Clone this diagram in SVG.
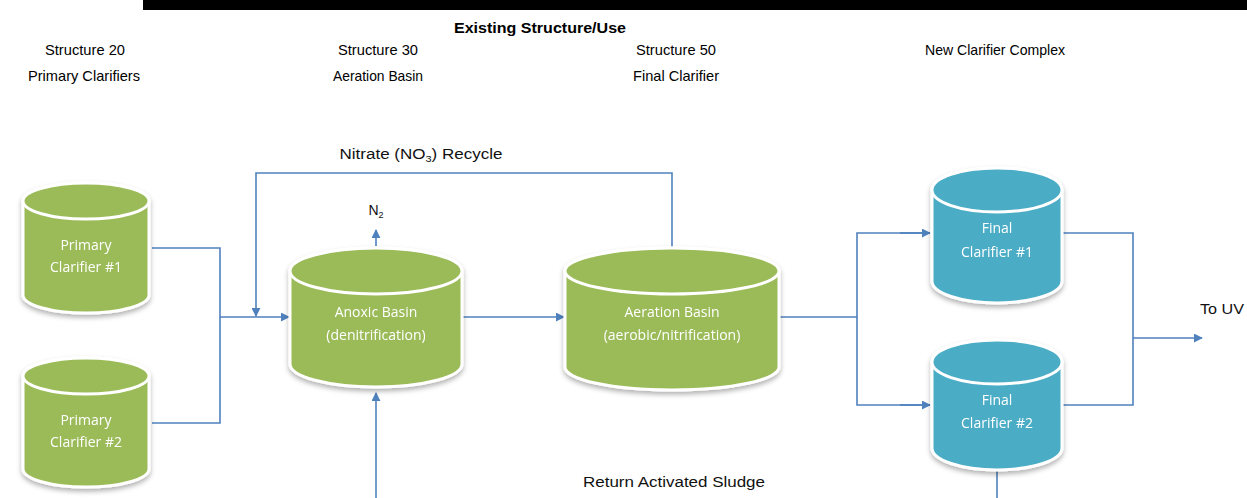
<svg xmlns="http://www.w3.org/2000/svg" width="1247" height="498" viewBox="0 0 1247 498">
<style>
.hdr{font-family:"Liberation Sans Narrow","Liberation Sans",Arial,sans-serif;font-size:15px;fill:#000;text-anchor:middle}
.lbl{font-family:"Liberation Sans",Arial,sans-serif;font-size:14px;fill:#111;text-anchor:middle}
.nt{font-family:"Open Sans","Liberation Sans",sans-serif;font-size:14px;fill:#fff;text-anchor:middle}
.green{fill:#9BBB59;stroke:#fff;stroke-width:3}
.blue{fill:#4BACC6;stroke:#fff;stroke-width:3}
.conn{fill:none;stroke:#4F81BD;stroke-width:1.6}
</style>
<defs>
<marker id="ah" viewBox="0 0 10 10" refX="9" refY="5" markerWidth="9" markerHeight="9" orient="auto" markerUnits="userSpaceOnUse">
<path d="M0,0 L10,5 L0,10 z" fill="#4F81BD"/>
</marker>
<filter id="sh" x="-20%" y="-20%" width="140%" height="150%">
<feDropShadow dx="0" dy="3" stdDeviation="2.5" flood-color="#000" flood-opacity="0.3"/>
</filter>
</defs>
<rect x="143" y="0" width="1104" height="10" fill="#000"/>
<g id="headers">
<text class="hdr" x="540" y="33" font-weight="bold" textLength="172" lengthAdjust="spacingAndGlyphs">Existing Structure/Use</text>
<text class="hdr" x="85" y="55" textLength="80" lengthAdjust="spacingAndGlyphs">Structure 20</text>
<text class="hdr" x="84" y="81" textLength="112" lengthAdjust="spacingAndGlyphs">Primary Clarifiers</text>
<text class="hdr" x="378" y="55" textLength="80" lengthAdjust="spacingAndGlyphs">Structure 30</text>
<text class="hdr" x="378" y="81" textLength="90" lengthAdjust="spacingAndGlyphs">Aeration Basin</text>
<text class="hdr" x="676" y="55" textLength="80" lengthAdjust="spacingAndGlyphs">Structure 50</text>
<text class="hdr" x="676" y="81" textLength="86" lengthAdjust="spacingAndGlyphs">Final Clarifier</text>
<text class="hdr" x="995" y="55" textLength="140" lengthAdjust="spacingAndGlyphs">New Clarifier Complex</text>
</g>
<g id="connectors">
<polyline class="conn" points="152,248 220,248 220,423 152,423"/>
<line class="conn" x1="220" y1="317" x2="289" y2="317" marker-end="url(#ah)"/>
<polyline class="conn" points="672,248 672,173 256,173 256,316" marker-end="url(#ah)"/>
<line class="conn" x1="376" y1="246" x2="376" y2="230" marker-end="url(#ah)"/>
<line class="conn" x1="462" y1="317" x2="564" y2="317" marker-end="url(#ah)"/>
<line class="conn" x1="376" y1="498" x2="376" y2="393" marker-end="url(#ah)"/>
<polyline class="conn" points="780,317 857,317"/>
<polyline class="conn" points="930,233 857,233 857,405 930,405"/>
<line class="conn" x1="900" y1="233" x2="930" y2="233" marker-end="url(#ah)"/>
<line class="conn" x1="900" y1="405" x2="930" y2="405" marker-end="url(#ah)"/>
<polyline class="conn" points="1062,233 1133,233 1133,405 1062,405"/>
<line class="conn" x1="1133" y1="338" x2="1202" y2="338" marker-end="url(#ah)"/>
<line class="conn" x1="997" y1="470" x2="997" y2="498"/>
</g>
<g id="labels">
<text class="lbl" x="421" y="159" textLength="163" lengthAdjust="spacingAndGlyphs">Nitrate (NO<tspan font-size="9" dy="3">3</tspan><tspan dy="-3">) Recycle</tspan></text>
<text class="lbl" x="376" y="215">N<tspan font-size="9" dy="3">2</tspan></text>
<text class="lbl" x="674" y="487" textLength="182" lengthAdjust="spacingAndGlyphs">Return Activated Sludge</text>
<text class="lbl" x="1222" y="314" textLength="44" lengthAdjust="spacingAndGlyphs">To UV</text>
</g>
<g id="pc1" filter="url(#sh)">
<path class="green" d="M23,201 L23,295 A63,18 0 0 0 149,295 L149,201 A63,18 0 0 0 23,201 Z"/>
<ellipse class="green" cx="86" cy="201" rx="63" ry="18"/>
<text class="nt" x="86" y="250">Primary</text>
<text class="nt" x="86" y="272">Clarifier #1</text>
</g>
<g id="pc2" filter="url(#sh)">
<path class="green" d="M23,376 L23,469 A63,18 0 0 0 149,469 L149,376 A63,18 0 0 0 23,376 Z"/>
<ellipse class="green" cx="86" cy="376" rx="63" ry="18"/>
<text class="nt" x="86" y="425">Primary</text>
<text class="nt" x="86" y="447">Clarifier #2</text>
</g>
<g id="anoxic" filter="url(#sh)">
<path class="green" d="M290,271 L290,364 A86,23 0 0 0 462,364 L462,271 A86,23 0 0 0 290,271 Z"/>
<ellipse class="green" cx="376" cy="271" rx="86" ry="23"/>
<text class="nt" x="376" y="317">Anoxic Basin</text>
<text class="nt" x="376" y="340">(denitrification)</text>
</g>
<g id="aeration" filter="url(#sh)">
<path class="green" d="M565,271 L565,367 A107,23 0 0 0 779,367 L779,271 A107,23 0 0 0 565,271 Z"/>
<ellipse class="green" cx="672" cy="271" rx="107" ry="23"/>
<text class="nt" x="672" y="317">Aeration Basin</text>
<text class="nt" x="672" y="340">(aerobic/nitrification)</text>
</g>
<g id="fc1" filter="url(#sh)">
<path class="blue" d="M932,190 L932,281 A65,22 0 0 0 1062,281 L1062,190 A65,22 0 0 0 932,190 Z"/>
<ellipse class="blue" cx="997" cy="190" rx="65" ry="22"/>
<text class="nt" x="997" y="233">Final</text>
<text class="nt" x="997" y="257">Clarifier #1</text>
</g>
<g id="fc2" filter="url(#sh)">
<path class="blue" d="M932,362 L932,448 A65,22 0 0 0 1062,448 L1062,362 A65,22 0 0 0 932,362 Z"/>
<ellipse class="blue" cx="997" cy="362" rx="65" ry="22"/>
<text class="nt" x="997" y="405">Final</text>
<text class="nt" x="997" y="428">Clarifier #2</text>
</g>
</svg>
